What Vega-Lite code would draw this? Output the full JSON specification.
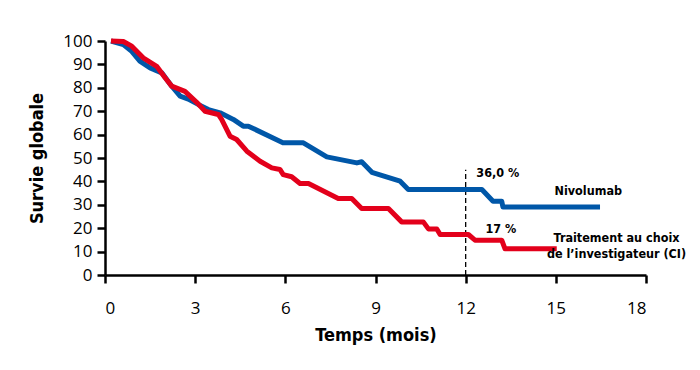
{
  "$schema": "https://vega.github.io/schema/vega-lite/v6.json",
  "width": 541,
  "height": 234,
  "autosize": {"type": "none"},
  "padding": {"left": 105, "top": 41, "right": 54, "bottom": 95},
  "background": "white",
  "config": {
    "view": {"stroke": null},
    "axis": {
      "grid": false,
      "domainColor": "black",
      "domainWidth": 2.5,
      "tickColor": "black",
      "tickWidth": 2.5,
      "tickSize": 8,
      "labelFont": "Open Sans",
      "labelFontSize": 17,
      "labelColor": "black",
      "labelOverlap": false,
      "titleFont": "DejaVu Sans Condensed, sans-serif",
      "titleFontWeight": "bold",
      "titleFontSize": 18,
      "titleColor": "black"
    }
  },
  "datasets": {
    "curves": [
      {"group": "Nivolumab", "t": 0.2, "s": 100},
      {"group": "Nivolumab", "t": 0.61, "s": 98.5},
      {"group": "Nivolumab", "t": 0.89, "s": 95.6},
      {"group": "Nivolumab", "t": 1.16, "s": 91.4},
      {"group": "Nivolumab", "t": 1.5, "s": 88.5},
      {"group": "Nivolumab", "t": 1.89, "s": 86.4},
      {"group": "Nivolumab", "t": 2.22, "s": 80.7},
      {"group": "Nivolumab", "t": 2.5, "s": 76.4},
      {"group": "Nivolumab", "t": 2.77, "s": 75.2},
      {"group": "Nivolumab", "t": 3.1, "s": 72.9},
      {"group": "Nivolumab", "t": 3.44, "s": 70.7},
      {"group": "Nivolumab", "t": 3.83, "s": 69.3},
      {"group": "Nivolumab", "t": 4.27, "s": 66.5},
      {"group": "Nivolumab", "t": 4.6, "s": 63.6},
      {"group": "Nivolumab", "t": 4.77, "s": 63.6},
      {"group": "Nivolumab", "t": 5.92, "s": 56.5},
      {"group": "Nivolumab", "t": 6.6, "s": 56.5},
      {"group": "Nivolumab", "t": 7.38, "s": 50.5},
      {"group": "Nivolumab", "t": 8.38, "s": 47.9},
      {"group": "Nivolumab", "t": 8.54, "s": 48.4},
      {"group": "Nivolumab", "t": 8.88, "s": 43.9},
      {"group": "Nivolumab", "t": 9.82, "s": 40.1},
      {"group": "Nivolumab", "t": 10.09, "s": 36.5},
      {"group": "Nivolumab", "t": 12.54, "s": 36.5},
      {"group": "Nivolumab", "t": 12.91, "s": 31.5},
      {"group": "Nivolumab", "t": 13.2, "s": 31.5},
      {"group": "Nivolumab", "t": 13.24, "s": 29.1},
      {"group": "Nivolumab", "t": 16.47, "s": 29.1},
      {"group": "CI", "t": 0.2, "s": 100},
      {"group": "CI", "t": 0.61, "s": 99.8},
      {"group": "CI", "t": 0.89, "s": 97.8},
      {"group": "CI", "t": 1.27, "s": 92.8},
      {"group": "CI", "t": 1.72, "s": 89.2},
      {"group": "CI", "t": 2.0, "s": 84.3},
      {"group": "CI", "t": 2.22, "s": 80.7},
      {"group": "CI", "t": 2.66, "s": 78.5},
      {"group": "CI", "t": 3.05, "s": 73.8},
      {"group": "CI", "t": 3.33, "s": 70.0},
      {"group": "CI", "t": 3.77, "s": 68.6},
      {"group": "CI", "t": 3.88, "s": 66.5},
      {"group": "CI", "t": 4.16, "s": 59.3},
      {"group": "CI", "t": 4.38, "s": 57.9},
      {"group": "CI", "t": 4.72, "s": 52.9},
      {"group": "CI", "t": 5.16, "s": 48.6},
      {"group": "CI", "t": 5.55, "s": 45.8},
      {"group": "CI", "t": 5.82, "s": 45.1},
      {"group": "CI", "t": 5.93, "s": 42.9},
      {"group": "CI", "t": 6.21, "s": 42.0},
      {"group": "CI", "t": 6.49, "s": 39.1},
      {"group": "CI", "t": 6.77, "s": 39.1},
      {"group": "CI", "t": 7.76, "s": 32.7},
      {"group": "CI", "t": 8.21, "s": 32.7},
      {"group": "CI", "t": 8.54, "s": 28.4},
      {"group": "CI", "t": 9.43, "s": 28.4},
      {"group": "CI", "t": 9.87, "s": 22.7},
      {"group": "CI", "t": 10.59, "s": 22.7},
      {"group": "CI", "t": 10.76, "s": 19.7},
      {"group": "CI", "t": 11.04, "s": 19.7},
      {"group": "CI", "t": 11.15, "s": 17.3},
      {"group": "CI", "t": 12.09, "s": 17.3},
      {"group": "CI", "t": 12.31, "s": 14.9},
      {"group": "CI", "t": 13.2, "s": 14.9},
      {"group": "CI", "t": 13.31, "s": 11.2},
      {"group": "CI", "t": 15.03, "s": 11.2}
    ],
    "marker": [{"t": 12, "s": 0, "s2": 45}],
    "labels": [
      {"label": "36,0 %", "t": 13.07, "s": 43.7},
      {"label": "17 %", "t": 13.17, "s": 19.7},
      {"label": "Nivolumab", "t": 16.08, "s": 35.8},
      {"label": "Traitement au choix", "t": 17.02, "s": 15.9},
      {"label": "de l’investigateur (CI)", "t": 17.02, "s": 8.8}
    ]
  },
  "encoding": {
    "x": {"field": "t", "type": "quantitative", "scale": {"domain": [0, 18]},
          "axis": {"values": [0, 3, 6, 9, 12, 15, 18], "title": "Temps (mois)", "labelPadding": 17, "titlePadding": 10}},
    "y": {"field": "s", "type": "quantitative", "scale": {"domain": [0, 100]},
          "axis": {"values": [0, 10, 20, 30, 40, 50, 60, 70, 80, 90, 100], "labelOverlap": false, "title": "Survie globale", "labelPadding": 5, "titlePadding": 16}}
  },
  "layer": [
    {
      "data": {"name": "marker"},
      "mark": {"type": "rule", "color": "black", "strokeWidth": 1.3, "strokeDash": [5, 3]},
      "encoding": {
        "y2": {"field": "s2"}
      }
    },
    {
      "data": {"name": "curves"},
      "mark": {"type": "line", "strokeWidth": 5, "strokeJoin": "round", "strokeCap": "butt"},
      "encoding": {
        "color": {"field": "group", "type": "nominal", "scale": {"domain": ["Nivolumab", "CI"], "range": ["#0057a8", "#e3001b"]}, "legend": null},
        "order": {"field": "t", "type": "quantitative"}
      }
    },
    {
      "data": {"name": "labels"},
      "mark": {"type": "text", "align": "center", "baseline": "middle", "font": "DejaVu Sans Condensed, sans-serif", "fontWeight": "bold", "fontSize": 12.5, "color": "black"},
      "encoding": {
        "text": {"field": "label"}
      }
    }
  ]
}
